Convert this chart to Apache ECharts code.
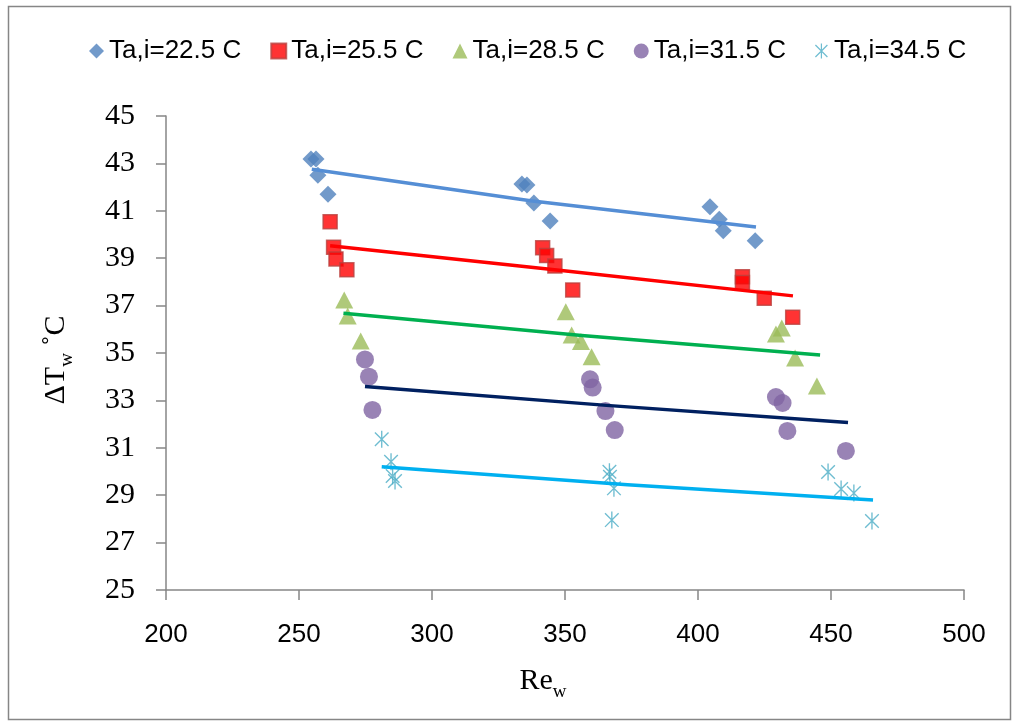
<!DOCTYPE html>
<html>
<head>
<meta charset="utf-8">
<script src="https://cdn.jsdelivr.net/npm/echarts@6/dist/echarts.min.js"></script>
<style>
html,body{margin:0;padding:0;background:#fff;}
#chart{width:1018px;height:726px;}
</style>
</head>
<body>
<div id="chart"></div>
<script>
// ---- data ----
const seriesNames = ['Ta,i=22.5 C', 'Ta,i=25.5 C', 'Ta,i=28.5 C', 'Ta,i=31.5 C', 'Ta,i=34.5 C'];

const re22 = [254.5, 256.4, 257.1, 260.9, 333.8, 335.7, 338.3, 344.4, 404.5, 408.0, 409.5, 421.5];
const dt22 = [43.19, 43.19, 42.50, 41.70, 42.13, 42.09, 41.33, 40.57, 41.17, 40.64, 40.16, 39.74];

const re25 = [261.7, 263.0, 263.9, 268.0, 341.6, 343.1, 346.2, 352.9, 416.7, 416.7, 424.9, 435.6];
const dt25 = [40.54, 39.46, 38.97, 38.51, 39.44, 39.11, 38.67, 37.66, 38.22, 37.97, 37.31, 36.51];

const re28 = [267.0, 268.3, 273.2, 350.3, 352.5, 356.0, 360.0, 429.3, 431.5, 436.5, 444.7];
const dt28 = [37.24, 36.56, 35.51, 36.74, 35.76, 35.48, 34.84, 35.80, 36.05, 34.79, 33.61];

const re31 = [274.8, 276.3, 277.6, 359.4, 360.4, 365.2, 368.7, 429.3, 431.8, 433.6, 455.6];
const dt31 = [34.73, 34.00, 32.60, 33.89, 33.54, 32.55, 31.75, 33.14, 32.89, 31.71, 30.87];

const re34 = [281.1, 284.6, 285.2, 286.1, 366.7, 366.9, 368.4, 367.6, 448.9, 453.8, 458.6, 465.4];
const dt34 = [31.36, 30.41, 29.81, 29.60, 29.99, 29.78, 29.29, 27.95, 29.98, 29.26, 29.09, 27.91];

// trendlines (start, middle, end points)
const fit22x = [254.8, 337.0, 421.8];
const fit22y = [42.75, 41.42, 40.32];
const fit25x = [261.7, 348.7, 435.7];
const fit25y = [39.53, 38.48, 37.41];
const fit28x = [266.7, 356.3, 445.9];
const fit28y = [36.68, 35.74, 34.92];
const fit31x = [274.8, 365.6, 456.4];
const fit31y = [33.59, 32.79, 32.07];
const fit34x = [281.1, 373.5, 465.8];
const fit34y = [30.20, 29.44, 28.80];

const xTicks = [200, 250, 300, 350, 400, 450, 500];
const yTicks = [25, 27, 29, 31, 33, 35, 37, 39, 41, 43, 45];

// ---- build ----
function pairs(xs, ys) { return xs.map((x, i) => [x, ys[i]]); }

const asteriskPath = 'path://M9.2 0L10.8 0L10.8 20L9.2 20Z' +
  'M2.57 1.43L18.57 17.43L17.43 18.57L1.43 2.57Z' +
  'M17.43 1.43L18.57 2.57L2.57 18.57L1.43 17.43Z';

const markerStyles = [
  { symbol: 'diamond', size: 17, color: '#4F81BD' },
  { symbol: 'rect', size: 14, color: '#FF0000', border: '#B9413F' },
  { symbol: 'triangle', size: [18, 17], color: '#9BBB59' },
  { symbol: 'circle', size: 18, color: '#8064A2' },
  { symbol: asteriskPath, size: 17, color: '#4BACC6' }
];
const pointSets = [pairs(re22, dt22), pairs(re25, dt25), pairs(re28, dt28), pairs(re31, dt31), pairs(re34, dt34)];
const fitSets = [pairs(fit22x, fit22y), pairs(fit25x, fit25y), pairs(fit28x, fit28y), pairs(fit31x, fit31y), pairs(fit34x, fit34y)];
const fitColors = ['#558ED5', '#FF0000', '#00B050', '#002060', '#00B0F0'];

const series = [];
pointSets.forEach((d, i) => {
  const m = markerStyles[i];
  series.push({
    name: seriesNames[i],
    type: 'scatter',
    data: d,
    symbol: m.symbol,
    symbolSize: m.size,
    symbolKeepAspect: true,
    itemStyle: m.border ? { color: m.color, borderColor: m.border, borderWidth: 1.5 } : { color: m.color },
    z: 2
  });
});
fitSets.forEach((d, i) => {
  series.push({
    name: 'fit' + i,
    type: 'line',
    data: d,
    showSymbol: false,
    smooth: false,
    lineStyle: { color: fitColors[i], width: 3.5, join: 'round', cap: 'butt' },
    z: 3,
    silent: true
  });
});

const chart = echarts.init(document.getElementById('chart'), null, { renderer: 'canvas' });
chart.setOption({
  animation: false,
  backgroundColor: '#ffffff',
  graphic: [{
    type: 'rect',
    shape: { x: 8.5, y: 6.5, width: 1002, height: 713 },
    style: { fill: 'none', stroke: '#868686', lineWidth: 1.5 },
    z: -1
  }],
  legend: {
    data: seriesNames.map((n, i) => ({ name: n, icon: markerStyles[i].symbol })),
    top: 33,
    left: 84,
    itemWidth: 15,
    itemHeight: 15,
    itemGap: 29,
    textStyle: { fontFamily: 'Liberation Sans', fontSize: 26, color: '#000' }
  },
  grid: { left: 166, right: 54, top: 116, bottom: 136, containLabel: false },
  xAxis: {
    type: 'value',
    min: 200, max: 500, interval: 50,
    name: '{a|Re}{b|w}',
    nameLocation: 'middle',
    nameGap: 76,
    nameTextStyle: {
      padding: [0, 44, 0, 0],
      rich: {
        a: { fontFamily: 'Liberation Serif', fontSize: 30, color: '#000', verticalAlign: 'bottom' },
        b: { fontFamily: 'Liberation Serif', fontSize: 19, color: '#000', verticalAlign: 'bottom', padding: [0, 0, -6, 0] }
      }
    },
    axisLine: { show: true, lineStyle: { color: '#868686', width: 1.5 } },
    axisTick: { show: true, inside: false, length: 10, lineStyle: { color: '#868686', width: 1.5 } },
    axisLabel: { margin: 32, fontFamily: 'Liberation Sans', fontSize: 26, color: '#000',
      formatter: v => xTicks.includes(v) ? String(v) : '' },
    splitLine: { show: false }
  },
  yAxis: {
    type: 'value',
    min: 25, max: 45, interval: 2,
    name: '{a|ΔT}{b|w}{a| ˚C}',
    nameLocation: 'middle',
    nameRotate: 90,
    nameGap: 95,
    nameTextStyle: {
      padding: [0, 14, 0, 0],
      rich: {
        a: { fontFamily: 'Liberation Serif', fontSize: 30, color: '#000', verticalAlign: 'bottom' },
        b: { fontFamily: 'Liberation Serif', fontSize: 19, color: '#000', verticalAlign: 'bottom', padding: [0, 0, -6, 0] }
      }
    },
    axisLine: { show: true, lineStyle: { color: '#868686', width: 1.5 } },
    axisTick: { show: true, inside: false, length: 10, lineStyle: { color: '#868686', width: 1.5 } },
    axisLabel: { margin: 31, fontFamily: 'Liberation Serif', fontSize: 30, color: '#000',
      formatter: v => yTicks.includes(v) ? String(v) : '' },
    splitLine: { show: false }
  },
  series: series
});
</script>
</body>
</html>
